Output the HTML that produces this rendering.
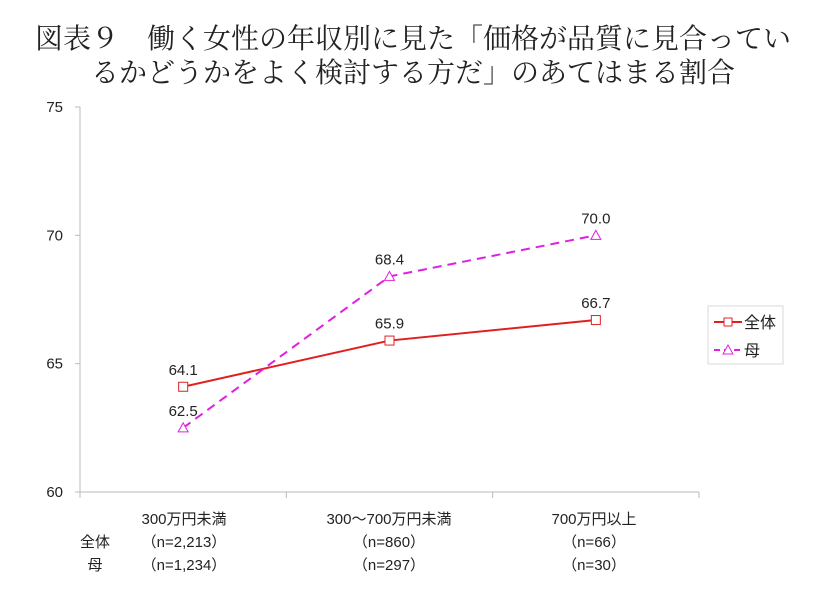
<!DOCTYPE html>
<html><head><meta charset="utf-8">
<style>
body{margin:0;background:#fff;width:833px;height:607px;overflow:hidden;}
svg{display:block;}
.t{font-family:"Liberation Serif","Noto Serif CJK SC",serif;font-size:28px;fill:#222;}
.s{font-family:"Liberation Sans","Noto Sans CJK JP",sans-serif;font-size:15px;fill:#222;}
</style></head>
<body>
<svg id="chart" width="833" height="607" xmlns="http://www.w3.org/2000/svg">
<text class="t" x="413" y="48" text-anchor="middle">図表９　働く女性の年収別に見た「価格が品質に見合ってい</text>
<text class="t" x="413" y="82" text-anchor="middle">るかどうかをよく検討する方だ」のあてはまる割合</text>
<g id="axes"></g>
<g id="series"></g>
<g>
<rect x="708" y="306" width="75" height="58" fill="#fff" stroke="#d8d8d8"/>
<line x1="714" y1="322" x2="742" y2="322" stroke="#e02020" stroke-width="2"/>
<rect x="724" y="318" width="8" height="8" fill="#fff" stroke="#e02020"/>
<text class="s" x="744" y="328" style="font-size:16px">全体</text>
<line x1="714" y1="350" x2="742" y2="350" stroke="#e020e0" stroke-width="2" stroke-dasharray="6,4"/>
<polygon points="728,345 733,354 723,354" fill="#fff" stroke="#e020e0"/>
<text class="s" x="744" y="356" style="font-size:16px">母</text>
</g>
<g>
<text class="s" x="184" y="524" text-anchor="middle">300万円未満</text>
<text class="s" x="389" y="524" text-anchor="middle">300～700万円未満</text>
<text class="s" x="594" y="524" text-anchor="middle">700万円以上</text>
<text class="s" x="95" y="547" text-anchor="middle">全体</text>
<text class="s" x="95" y="570" text-anchor="middle">母</text>
<text class="s" x="184" y="547" text-anchor="middle">（n=2,213）</text>
<text class="s" x="184" y="570" text-anchor="middle">（n=1,234）</text>
<text class="s" x="389" y="547" text-anchor="middle">（n=860）</text>
<text class="s" x="389" y="570" text-anchor="middle">（n=297）</text>
<text class="s" x="594" y="547" text-anchor="middle">（n=66）</text>
<text class="s" x="594" y="570" text-anchor="middle">（n=30）</text>
</g>
</svg>
<script>
const categories=["300万円未満","300～700万円未満","700万円以上"];
const totalValues=[64.1,65.9,66.7];
const motherValues=[62.5,68.4,70.0];
const yTicks=[60,65,70,75];
const NS="http://www.w3.org/2000/svg";
const L=80,R=699,T=107,B=492,yMin=60,yMax=75;
const y=v=>B-(v-yMin)/(yMax-yMin)*(B-T);
const band=(R-L)/categories.length;
const x=i=>L+band*(i+0.5);
function mk(tag,attrs,parent){const e=document.createElementNS(NS,tag);for(const k in attrs)e.setAttribute(k,attrs[k]);parent.appendChild(e);return e;}
const ax=document.getElementById('axes'),se=document.getElementById('series');
let a=mk('line',{x1:L,y1:T,x2:L,y2:B,stroke:'#bbb'},ax);


a=mk('line',{x1:L,y1:B,x2:R,y2:B,stroke:'#bbb'},ax);


for(let i=0;i<=categories.length;i++){mk('line',{x1:L+band*i,y1:B,x2:L+band*i,y2:B+6,stroke:'#bbb'},ax);}
yTicks.forEach(v=>{
 mk('line',{x1:L-5,y1:y(v),x2:L,y2:y(v),stroke:'#bbb'},ax);
 const t=mk('text',{x:L-17,y:y(v)+5,'text-anchor':'end',class:'s'},ax);t.textContent=v;
 
 
});
function series(vals,color,dash,marker,name){
 const p=mk('polyline',{points:vals.map((v,i)=>x(i)+','+y(v)).join(' '),fill:'none',stroke:color,'stroke-width':2,'stroke-dasharray':dash},se);
 
 
 vals.forEach((v,i)=>{
  let m;
  if(marker==='sq')m=mk('rect',{x:x(i)-4.5,y:y(v)-4.5,width:9,height:9,fill:'#fff',stroke:color},se);
  else m=mk('polygon',{points:`${x(i)},${y(v)-5} ${x(i)+5},${y(v)+4} ${x(i)-5},${y(v)+4}`,fill:'#fff',stroke:color},se);
  
  
  const t=mk('text',{x:x(i),y:y(v)-12,'text-anchor':'middle',class:'s'},se);
  t.textContent=v.toFixed(1);
  
  
 });
}
series(totalValues,'#e02020','','sq','total');
series(motherValues,'#e020e0','9,6','tri','mother');
</script>
</body></html>
